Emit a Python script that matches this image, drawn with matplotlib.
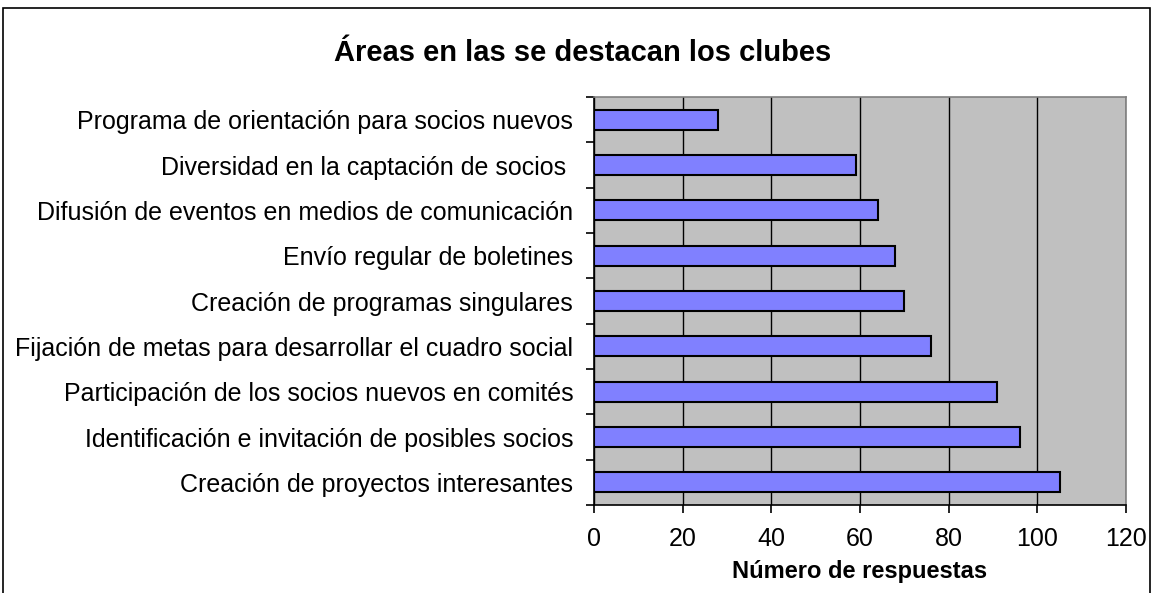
import matplotlib.pyplot as plt
from matplotlib.patches import Rectangle

plt.rcParams['font.family'] = ['Liberation Sans', 'DejaVu Sans']

categories = [
    "Creación de proyectos interesantes",
    "Identificación e invitación de posibles socios",
    "Participación de los socios nuevos en comités",
    "Fijación de metas para desarrollar el cuadro social",
    "Creación de programas singulares",
    "Envío regular de boletines",
    "Difusión de eventos en medios de comunicación",
    "Diversidad en la captación de socios ",
    "Programa de orientación para socios nuevos",
]
values = [105, 96, 91, 76, 70, 68, 64, 59, 28]
xticks = [0, 20, 40, 60, 80, 100, 120]

fig = plt.figure(figsize=(11.54, 5.93), dpi=100)
ax = fig.add_axes([594 / 1154, 1 - 505 / 593, 532 / 1154, 408 / 593])

# frame around the whole chart
fig.patches.append(Rectangle((3 / 1154, -0.01), 1147 / 1154, 1 - 8 / 593 + 0.01,
                             transform=fig.transFigure, fill=False,
                             edgecolor='black', linewidth=1.2))

ypos = list(range(len(categories)))
ax.set_facecolor('#C0C0C0')
ax.barh(ypos, values, height=0.44, color='#8080FF', edgecolor='black',
        linewidth=1.5, zorder=3)

ax.set_xlim(0, 120)
ax.set_ylim(-0.5, len(categories) - 0.5)
ax.set_xticks(xticks)
ax.set_xticklabels([str(t) for t in xticks], fontsize=18)
ax.xaxis.grid(True, color='black', linewidth=1, zorder=1)
ax.set_axisbelow(True)

ax.set_yticks(ypos)
ax.set_yticklabels(categories, fontsize=18)
ax.tick_params(axis='y', which='major', length=0, pad=15)
ax.set_yticks([i - 0.5 for i in range(len(categories) + 1)], minor=True)
ax.tick_params(axis='y', which='minor', length=6, width=1.2, direction='out')
ax.tick_params(axis='x', length=6, width=1.2, direction='out', pad=10)

for s in ['left', 'bottom']:
    ax.spines[s].set_color('black')
    ax.spines[s].set_linewidth(1.2)
for s in ['top', 'right']:
    ax.spines[s].set_color('#808080')
    ax.spines[s].set_linewidth(1.2)

ax.set_xlabel("Número de respuestas", fontsize=17, fontweight='bold', labelpad=6)
fig.text(0.505, 1 - 53 / 593, "Áreas en las se destacan los clubes",
         ha='center', va='center', fontsize=21, fontweight='bold')

fig.savefig('out.png', dpi=100)
